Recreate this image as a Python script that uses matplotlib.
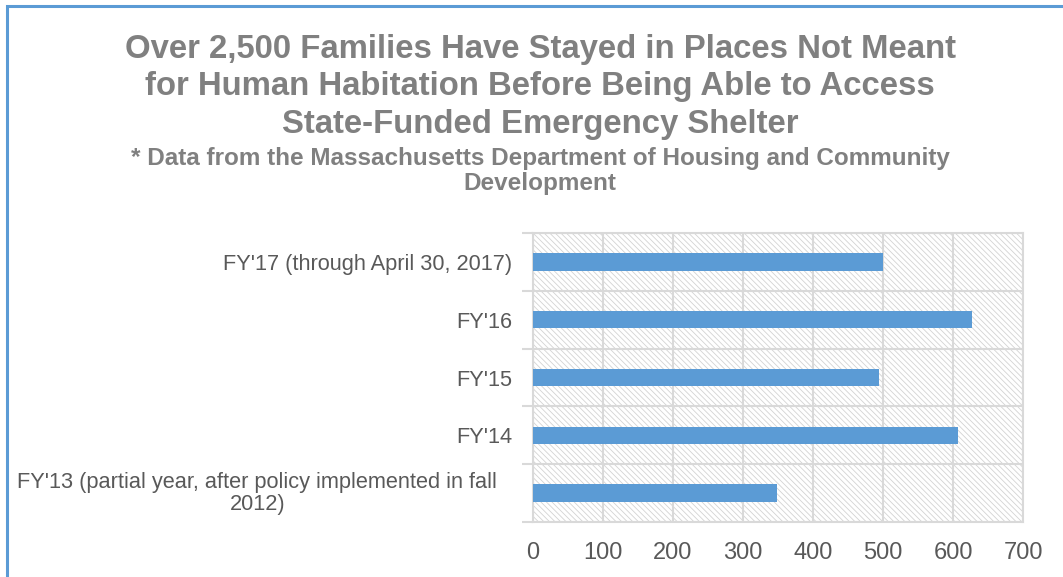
import matplotlib
matplotlib.use("Agg")
import matplotlib.pyplot as plt
from matplotlib.patches import Rectangle
from matplotlib.transforms import ScaledTranslation
import numpy as np

plt.rcParams['font.family'] = ['Liberation Sans', 'DejaVu Sans']
plt.rcParams['hatch.linewidth'] = 0.6
plt.rcParams['hatch.color'] = '#d3d3d3'

categories = ["FY'13 (partial year, after policy implemented in fall\n2012)",
              "FY'14", "FY'15", "FY'16", "FY'17 (through April 30, 2017)"]
values = [349, 607, 494, 627, 500]
xticks = [0, 100, 200, 300, 400, 500, 600, 700]

title = ("Over 2,500 Families Have Stayed in Places Not Meant\n"
         "for Human Habitation Before Being Able to Access\n"
         "State-Funded Emergency Shelter")
subtitle = ("* Data from the Massachusetts Department of Housing and Community\n"
            "Development")

fig = plt.figure(figsize=(10.63, 5.77), dpi=100)
fig.patch.set_facecolor('white')

# blue frame (top and left visible)
frame = Rectangle((7/1063, -0.1), 1.2, 1 - 6/577 + 0.1, transform=fig.transFigure,
                  fill=False, edgecolor='#5b9bd5', linewidth=2.2, zorder=10)
fig.add_artist(frame)

fig.text(0.508, 1 - 34/577, title, ha='center', va='top', fontsize=23.7,
         fontweight='bold', color='#808080', linespacing=1.27)
fig.text(0.508, 1 - 147/577, subtitle, ha='center', va='top', fontsize=17.5,
         fontweight='bold', color='#808080', linespacing=1.13)

ax = fig.add_axes([533/1063, 1 - 522/577, (1023 - 533)/1063, (522 - 233)/577])
ax.set_facecolor('white')
bg = Rectangle((0, 0), 1, 1, transform=ax.transAxes, facecolor='white',
               hatch='\\\\\\\\\\\\', edgecolor='#d3d3d3', linewidth=0, zorder=0)
ax.add_patch(bg)

y = np.arange(len(categories))
ax.barh(y, values, height=0.3, color='#5b9bd5', zorder=3)

ax.set_xlim(0, 700)
ax.set_ylim(-0.5, len(categories) - 0.5)
ax.set_xticks(xticks)
ax.set_xticklabels([str(t) for t in xticks])
ax.tick_params(axis='x', length=0, pad=14.5, labelsize=17, labelcolor='#595959')

ax.set_yticks(np.arange(-0.5, len(categories), 1.0))
ax.set_yticklabels([])
ax.tick_params(axis='y', which='major', length=8, width=1.5, color='#d9d9d9')
ax.set_yticks(y, minor=True)
ax.set_yticklabels(categories, minor=True, fontsize=15.7, color='#595959',
                   ha='right', multialignment='center', linespacing=1.1)
ax.tick_params(axis='y', which='minor', length=0, pad=15)

# the wrapped first label sits a little further left and higher, as in the reference
lbl = ax.get_yticklabels(minor=True)[0]
lbl.set_transform(lbl.get_transform() + ScaledTranslation(-15/100, 3/100, fig.dpi_scale_trans))

ax.grid(True, which='major', axis='both', color='#d9d9d9', linewidth=1.5, zorder=1)
ax.set_axisbelow(True)
for s in ax.spines.values():
    s.set_color('#d9d9d9')
    s.set_linewidth(1.5)

fig.savefig('out.png', dpi=100, facecolor='white')
